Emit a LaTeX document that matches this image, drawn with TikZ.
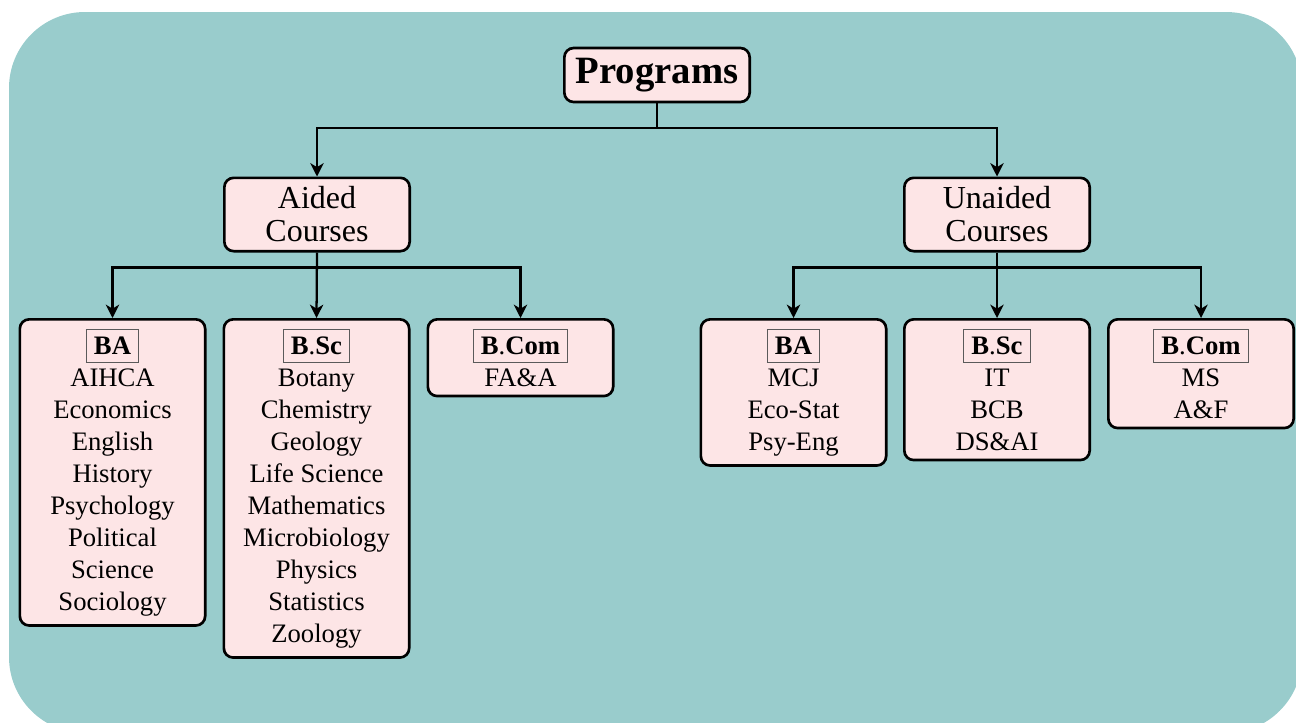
\documentclass[tikz,border=0pt]{standalone}
\usepackage{fontspec}
\setmainfont{Liberation Serif}
\usetikzlibrary{arrows.meta}

\definecolor{bgteal}{RGB}{153,204,204}
\definecolor{boxpink}{RGB}{253,229,230}
\definecolor{hdrgray}{RGB}{90,90,90}
\setlength{\fboxsep}{5.5pt}
\setlength{\fboxrule}{0.6pt}
\newcommand{\hdr}[1]{{\color{hdrgray}\fbox{\color{black}#1}}}

\tikzset{
  box/.style={draw, fill=boxpink, line width=2pt, rounded corners=7pt,
    minimum width=139pt, align=center, font=\fontsize{20}{24}\selectfont},
  topbox/.style={box, font=\bfseries\fontsize{29}{34}\selectfont, minimum height=40.5pt},
  catbox/.style={box, font=\fontsize{24}{24.8}\selectfont, minimum height=55pt, inner sep=6pt},
  listbox/.style={box, anchor=north, inner sep=7pt},
  link/.style={line width=1.7pt, -{Stealth[length=10pt,width=10pt,inset=3pt]}}
}

\begin{document}
\begin{tikzpicture}[x=0.75pt, y=-0.75pt]
			\useasboundingbox (0,0) rectangle (1296,722);
			\fill[bgteal, rounded corners=57pt] (9,12) rectangle (1302,733);
			\node[topbox] (prog) at (657,75) {Programs};
			\node[catbox] (aided) at (317,214.5) {Aided\\Courses};
			\node[catbox] (unaided) at (997,214.5) {Unaided\\Courses};
			\node[listbox] (aba) at (112.5,318) {\hdr{\textbf{BA}}\\AIHCA\\Economics\\English\\History\\Psychology\\Political\\Science\\Sociology};
			\node[listbox] (absc) at (316.5,318) {\hdr{\textbf{B}.\textbf{Sc}}\\Botany\\Chemistry\\Geology\\Life Science\\Mathematics\\Microbiology\\Physics\\Statistics\\Zoology};
			\node[listbox] (abcom) at (520.5,318) {\hdr{\textbf{B}.\textbf{Com}}\\FA\&A};
			\node[listbox] (uba) at (793.5,318) {\hdr{\textbf{BA}}\\MCJ\\Eco-Stat\\Psy-Eng};
			\node[listbox] (ubsc) at (997,318) {\hdr{\textbf{B}.\textbf{Sc}}\\IT\\BCB\\DS\&AI};
			\node[listbox] (ubcom) at (1201,318) {\hdr{\textbf{B}.\textbf{Com}}\\MS\\A\&F};
			\draw[link] (prog.south) -- ++(0,25) -| (aided.north);
			\draw[link] (prog.south) -- ++(0,25) -| (unaided.north);
			\draw[link] (aided.south) -- ++(0,15) -| (aba.north);
			\draw[link] (aided.south) -- (absc.north);
			\draw[link] (aided.south) -- ++(0,15) -| (abcom.north);
			\draw[link] (unaided.south) -- ++(0,15) -| (uba.north);
			\draw[link] (unaided.south) -- (ubsc.north);
			\draw[link] (unaided.south) -- ++(0,15) -| (ubcom.north);
\end{tikzpicture}
\end{document}
